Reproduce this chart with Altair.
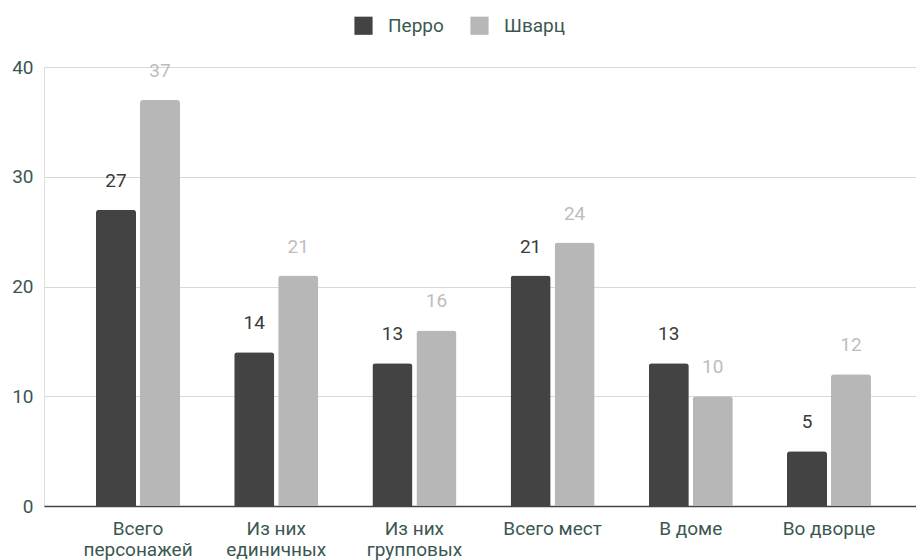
import altair as alt
import pandas as pd

# Category names (line breaks mark the wrapped axis labels)
categories = [
    "Всего\nперсонажей",
    "Из них\nединичных",
    "Из них\nгрупповых",
    "Всего мест",
    "В доме",
    "Во дворце",
]
authors = ["Перро", "Шварц"]
perrault = [27, 14, 13, 21, 13, 5]
schwarz = [37, 21, 16, 24, 10, 12]

rows = []
for cat, p, s in zip(categories, perrault, schwarz):
    rows.append({"category": cat, "author": authors[0], "value": p})
    rows.append({"category": cat, "author": authors[1], "value": s})
df = pd.DataFrame(rows)

bar_colors = ["#434343", "#b7b7b7"]
text_dark = "#3b5751"

x_enc = alt.X(
    "category:N",
    sort=categories,
    title=None,
    scale=alt.Scale(paddingInner=0.392, paddingOuter=0.351, align=0.536),
    axis=alt.Axis(
        labelAngle=0,
        labelExpr="split(datum.label, '\\n')",
        labelFont="Roboto",
        labelFontSize=19,
        labelColor=text_dark,
        labelLineHeight=21,
        labelPadding=13,
        labelBaseline="top",
        ticks=False,
        grid=False,
        domainColor="#444444",
        domainWidth=1.5,
    ),
)
xoff_enc = alt.XOffset(
    "author:N", sort=authors, scale=alt.Scale(paddingInner=0.09, paddingOuter=0)
)
y_enc = alt.Y(
    "value:Q",
    title=None,
    scale=alt.Scale(domain=[0, 40], nice=False),
    axis=alt.Axis(
        values=[0, 10, 20, 30, 40],
        labelFont="Roboto",
        labelFontSize=19,
        labelColor=text_dark,
        labelPadding=11,
        ticks=False,
        domain=False,
        gridColor="#d9d9d9",
        gridWidth=1,
    ),
)
color_enc = alt.Color(
    "author:N",
    sort=authors,
    scale=alt.Scale(domain=authors, range=bar_colors),
    legend=alt.Legend(
        title=None,
        orient="none",
        legendX=310,
        legendY=-51,
        direction="horizontal",
        columns=2,
        symbolType="square",
        symbolSize=330,
        symbolStrokeWidth=0,
        symbolOpacity=1,
        labelFont="Roboto",
        labelFontSize=19,
        labelColor=text_dark,
        labelOffset=15,
        columnPadding=26,
        padding=0,
    ),
)

bars = alt.Chart(df).mark_bar(
    cornerRadiusTopLeft=3, cornerRadiusTopRight=3
).encode(x=x_enc, xOffset=xoff_enc, y=y_enc, color=color_enc)

labels = alt.Chart(df).mark_text(
    font="Roboto", fontSize=19, baseline="alphabetic", dy=-23
).encode(
    x=alt.X("category:N", sort=categories),
    xOffset=alt.XOffset("author:N", sort=authors),
    y="value:Q",
    text="value:Q",
    color=alt.Color(
        "author:N",
        sort=authors,
        scale=alt.Scale(domain=authors, range=["#3a3a3a", "#bdbdbd"]),
        legend=None,
    ),
)

chart = (
    alt.layer(bars, labels)
    .resolve_scale(color="independent")
    .properties(
        width=872,
        height=439,
        autosize=alt.AutoSizeParams(type="none"),
        padding={"left": 44, "top": 67, "right": 0, "bottom": 54},
    )
    .configure_view(stroke=None)
    .configure(background="white")
)

chart.save("out.html", embed_options={"renderer": "svg", "actions": False})
